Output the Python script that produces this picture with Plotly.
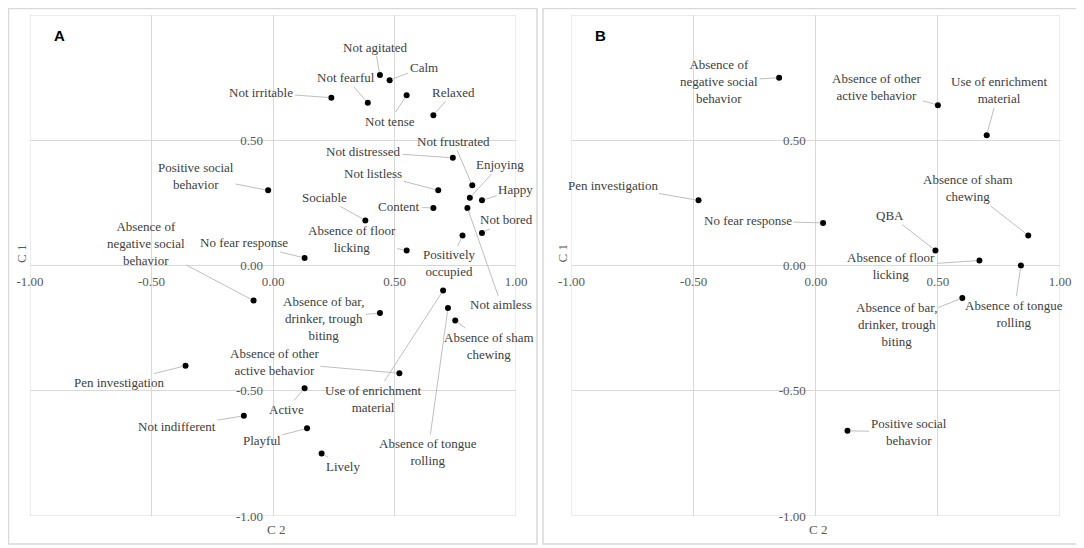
import plotly.graph_objects as go

# Panel A: component loadings (C 2 on x, C 1 on y)
a_names = [
    "Not agitated", "Calm", "Not irritable", "Not fearful", "Not tense", "Relaxed",
    "Not frustrated", "Not distressed", "Enjoying", "Happy", "Not listless", "Content",
    "Sociable", "Not bored", "Positively<br>occupied", "Absence of floor<br>licking",
    "No fear response", "Positive social<br>behavior",
    "Absence of<br>negative social<br>behavior", "Not aimless",
    "Absence of sham<br>chewing", "Absence of tongue<br>rolling",
    "Use of enrichment<br>material", "Absence of other<br>active behavior",
    "Absence of bar,<br>drinker, trough<br>biting", "Pen investigation", "Active",
    "Not indifferent", "Playful", "Lively",
]
a_c2 = [0.44, 0.48, 0.24, 0.39, 0.55, 0.66, 0.82, 0.74, 0.81, 0.86, 0.68, 0.66,
        0.38, 0.86, 0.78, 0.55, 0.13, -0.02, -0.08, 0.80, 0.75, 0.72, 0.70, 0.52,
        0.44, -0.36, 0.13, -0.12, 0.14, 0.20]
a_c1 = [0.76, 0.74, 0.67, 0.65, 0.68, 0.60, 0.32, 0.43, 0.27, 0.26, 0.30, 0.23,
        0.18, 0.13, 0.12, 0.06, 0.03, 0.30, -0.14, 0.23, -0.22, -0.17, -0.10, -0.43,
        -0.19, -0.40, -0.49, -0.60, -0.65, -0.75]

# Panel B
b_names = [
    "Absence of<br>negative social<br>behavior", "Absence of other<br>active behavior",
    "Use of enrichment<br>material", "Pen investigation", "No fear response",
    "Absence of sham<br>chewing", "QBA", "Absence of floor<br>licking",
    "Absence of tongue<br>rolling", "Absence of bar,<br>drinker, trough<br>biting",
    "Positive social<br>behavior",
]
b_c2 = [-0.15, 0.50, 0.70, -0.48, 0.03, 0.87, 0.49, 0.67, 0.84, 0.60, 0.13]
b_c1 = [0.75, 0.64, 0.52, 0.26, 0.17, 0.12, 0.06, 0.02, 0.00, -0.13, -0.66]

tick_vals = [-1, -0.5, 0, 0.5, 1]
tick_text = ["-1.00", "-0.50", "0.00", "0.50", "1.00"]

# label placement (pixel offset of label centre from its point)
a_offsets = [(-5, -28), (34, -13), (-70, -5), (-22, -25), (-17, 26), (20, -23),
             (-19, -44), (-89, -6), (30, -33), (34, -11), (-65, -17), (-34, -1),
             (-41, -23), (25, -13), (-13, 28), (-55, -11), (-61, -15), (-72, -14),
             (-108, -57), (34, 97), (34, 25), (-20, 144), (-70, 108), (-125, -11),
             (-56, 5), (-67, 17), (-18, 21), (-67, 11), (-45, 12), (21, 13)]
b_offsets = [(-60, 4), (-61, -18), (12, -45), (-86, -15), (-75, -2), (-60, -47),
             (-45, -35), (-88, 6), (-7, 48), (-66, 26), (61, 1)]

# page body has an 8px margin, so the figure is drawn 8px in from the corner
PAD = 8
W, H = 1084 - PAD, 548 - PAD
SERIF = "Liberation Serif"
GRID = "#d9d9d9"
TXT = "#404040"


def px(sx):
    return max(sx - PAD, 0.5) / W


def py(sy):
    return 1 - max(sy - PAD, 0.5) / H


fig = go.Figure()
fig.add_trace(go.Scatter(x=a_c2, y=a_c1, mode="markers", xaxis="x", yaxis="y",
                         marker=dict(color="black", size=6), hoverinfo="skip"))
fig.add_trace(go.Scatter(x=b_c2, y=b_c1, mode="markers", xaxis="x2", yaxis="y2",
                         marker=dict(color="black", size=6), hoverinfo="skip"))

dom_a = [px(30), px(516)]
dom_b = [px(571.5), px(1060)]
dom_y = [py(516), py(15)]


def axis(domain, pos, standoff):
    return dict(domain=domain, range=[-1, 1], anchor="free", position=pos,
                automargin=False, tickvals=tick_vals, ticktext=tick_text,
                showgrid=True, gridcolor=GRID, gridwidth=1, zeroline=True,
                zerolinecolor=GRID, zerolinewidth=1, showline=False, ticks="",
                ticklabelstandoff=standoff,
                tickfont=dict(family=SERIF, size=13, color="#595959"))


annotations = []
shapes = []
panels = [(a_names, a_c2, a_c1, a_offsets, "x", "y", "A", 22, 276),
          (b_names, b_c2, b_c1, b_offsets, "x2", "y2", "B", 562.5, 818)]
for names, xs, ys, offs, xr, yr, letter, c1_x, c2_x in panels:
    for n, x, y, (ax, ay) in zip(names, xs, ys, offs):
        annotations.append(dict(x=x, y=y, xref=xr, yref=yr, text=n, showarrow=True,
                                ax=ax, ay=ay, arrowhead=0, arrowwidth=1,
                                arrowcolor="#bfbfbf", standoff=3,
                                font=dict(family=SERIF, size=13, color=TXT)))
    # axis titles (outside the plot area) and panel letters
    annotations.append(dict(x=px(c1_x), y=py(254), xref="paper", yref="paper",
                            xanchor="center", yanchor="middle",
                            text="C 1", textangle=-90, showarrow=False,
                            font=dict(family=SERIF, size=13, color="#595959")))
    annotations.append(dict(x=px(c2_x), y=py(529), xref="paper", yref="paper",
                            xanchor="center", yanchor="middle",
                            text="C 2", showarrow=False,
                            font=dict(family=SERIF, size=13, color="#595959")))
    annotations.append(dict(x=-0.88, y=0.92, xref=xr, yref=yr,
                            text="<b>" + letter + "</b>", showarrow=False,
                            font=dict(family="Liberation Sans", size=15, color="black")))
    # outer gridlines at +-1
    shapes.append(dict(type="rect", xref=xr, yref=yr, x0=-1, x1=1, y0=-1, y1=1,
                       line=dict(color=GRID, width=1), layer="below"))

# panel frames
shapes += [
    dict(type="rect", xref="paper", yref="paper", x0=px(3), x1=px(537),
         y0=py(544), y1=py(3), line=dict(color=GRID, width=1.5)),
    dict(type="rect", xref="paper", yref="paper", x0=px(543), x1=px(1080),
         y0=py(544), y1=py(3), line=dict(color=GRID, width=1.5)),
]

fig.update_layout(
    width=W, height=H, margin=dict(l=0, r=0, t=0, b=0, autoexpand=False),
    paper_bgcolor="white", plot_bgcolor="white", showlegend=False,
    xaxis=axis(dom_a, sum(dom_y) / 2, 6),
    yaxis=axis(dom_y, sum(dom_a) / 2, 10),
    xaxis2=axis(dom_b, sum(dom_y) / 2, 6),
    yaxis2=axis(dom_y, sum(dom_b) / 2, 10),
    annotations=annotations, shapes=shapes,
)

fig.write_html("out.html")
